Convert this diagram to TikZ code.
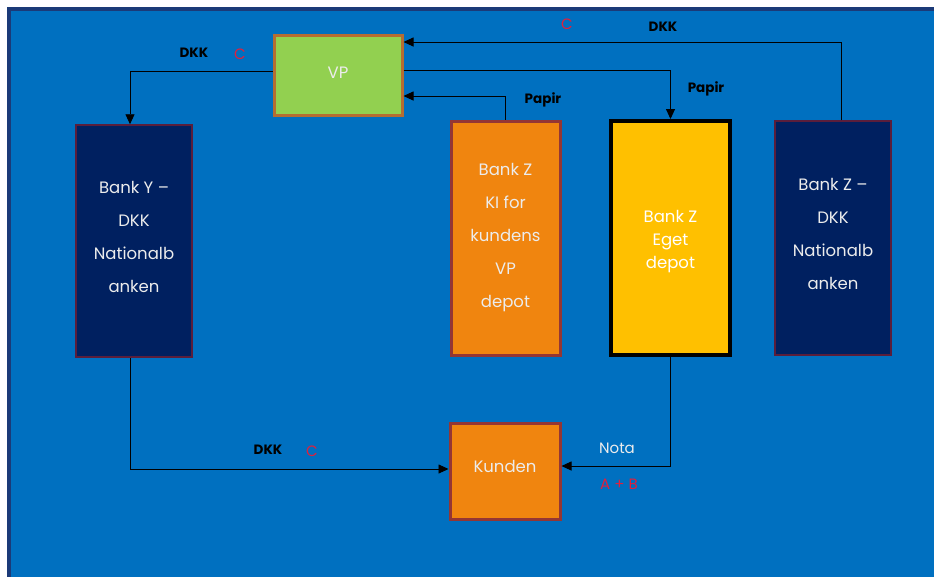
\documentclass[tikz,border=0pt]{standalone}
\usepackage{fontspec}
\setmainfont{Poppins}
\usetikzlibrary{arrows.meta}
\definecolor{bgblue}{HTML}{0070C0}
\definecolor{bgedge}{HTML}{1B3A78}
\definecolor{navy}{HTML}{002060}
\definecolor{navyedge}{HTML}{5A1E3C}
\definecolor{vpgreen}{HTML}{92D050}
\definecolor{vpedge}{HTML}{B56D32}
\definecolor{orng}{HTML}{F0850F}
\definecolor{orngedge}{HTML}{943634}
\definecolor{gold}{HTML}{FFC000}
\definecolor{redlbl}{HTML}{E0203C}
\definecolor{boxtxt}{HTML}{ECECEC}
\newcommand{\dstrut}[1]{\rule[-#1]{0pt}{#1}}
\newcommand{\hstrut}[1]{\rule{0pt}{#1}}
\tikzset{
  box/.style={rectangle, inner sep=0pt, align=center, text=boxtxt, font=\fontsize{16.5}{20}\selectfont},
  navybox/.style={box, fill=navy, draw=navyedge, line width=1.5pt, font=\fontsize{16.5}{33}\selectfont},
  orngbox/.style={box, fill=orng, draw=orngedge, line width=3pt},
  arr/.style={draw=black, line width=0.9pt, -{Triangle[length=10pt,width=9pt]}},
  blbl/.style={font=\bfseries\fontsize{13.5}{16}\selectfont, text=black},
  rlbl/.style={font=\fontsize{15}{18}\selectfont, text=redlbl}
}
\begin{document}
\begin{tikzpicture}[x=1pt,y=-1pt]
\useasboundingbox (0,0) rectangle (934,576);
\fill[white] (0,0) rectangle (934,576);
\draw[fill=bgblue, draw=bgedge, line width=4pt] (9,9) rectangle (945,590);

\node[box, fill=vpgreen, draw=vpedge, line width=3pt, minimum width=128pt, minimum height=80pt] (vp) at (338,75) {\dstrut{4pt}VP};
\node[navybox, minimum width=116pt, minimum height=232pt] (banky) at (134,241) {Bank Y –\\DKK\\Nationalb\\\dstrut{8pt}anken};
\node[orngbox, minimum width=109pt, minimum height=234pt, font=\fontsize{16.5}{33}\selectfont] (ki) at (505.5,238) {Bank Z\\KI for\\kundens\\VP\\depot};
\node[box, fill=gold, draw=black, line width=4pt, minimum width=119pt, minimum height=234pt, font=\fontsize{16.5}{23}\selectfont, text=white] (eget) at (670.5,238) {\hstrut{19.5pt}Bank Z\\Eget\\depot};
\node[navybox, minimum width=116pt, minimum height=234pt] (bankz) at (833,238) {Bank Z –\\DKK\\Nationalb\\\dstrut{8pt}anken};
\node[orngbox, minimum width=110pt, minimum height=96pt] (kunden) at (505,471) {\dstrut{10pt}Kunden};

\draw[arr] ([yshift=4pt]vp.west) -| ([xshift=-4pt]banky.north);
\draw[arr] ([yshift=5pt]vp.east) -| (eget.north);
\draw[arr] (ki.north) |- ([yshift=-21pt]vp.east);
\draw[arr] ([xshift=8pt]bankz.north) |- ([yshift=33pt]vp.east);
\draw[arr] ([xshift=-4pt]banky.south) |- ([yshift=2pt]kunden.west);
\draw[arr] (eget.south) |- ([yshift=5pt]kunden.east);

\node[blbl] (l1) at (194,53) {DKK};
\node[rlbl] (c1) at (240,54) {C};
\node[rlbl] (c2) at (567,24) {C};
\node[blbl] (l2) at (663,27) {DKK};
\node[blbl] (p1) at (543,100) {Papir};
\node[blbl] (p2) at (706,89) {Papir};
\node[blbl] (l3) at (268,450) {DKK};
\node[rlbl] (c3) at (312,451) {C};
\node[font=\fontsize{15}{18}\selectfont, text=boxtxt] (nota) at (617,448) {Nota};
\node[rlbl] (ab) at (619,484) {A + B};
\end{tikzpicture}
\end{document}
